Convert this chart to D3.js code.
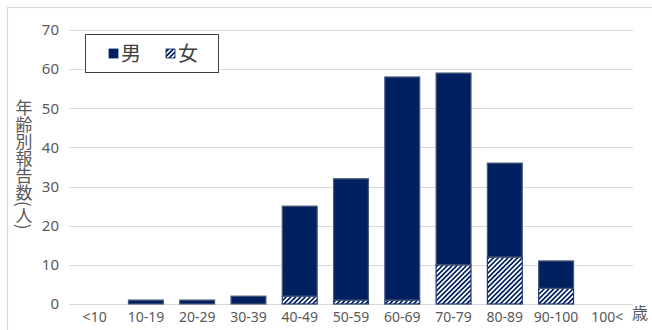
<!DOCTYPE html>
<html>
<head>
<meta charset="utf-8">
<script src="https://cdn.jsdelivr.net/npm/d3@7"></script>
<style>
  html, body { margin: 0; padding: 0; background: #fff; }
  svg { display: block; }
</style>
</head>
<body>
<svg id="chart" width="652" height="330"></svg>
<script>
// Age groups and reported counts by sex
const ageGroups = ["<10", "10-19", "20-29", "30-39", "40-49", "50-59", "60-69", "70-79", "80-89", "90-100", "100<"];
const female = [0, 0, 0, 0, 2, 1, 1, 10, 12, 4, 0];
const male   = [0, 1, 1, 2, 23, 31, 57, 49, 24, 7, 0];
const yTicks = [0, 10, 20, 30, 40, 50, 60, 70];
const seriesNames = ["男", "女"];

const navy = "#002060";
const textColor = "#595959";
const latin = "'Noto Sans', 'Noto Sans CJK JP', sans-serif";
const cjk = "'Noto Sans CJK JP', 'Noto Sans', sans-serif";

const svg = d3.select("#chart");

// chart frame
svg.append("rect")
  .attr("x", 7.5).attr("y", 7.5)
  .attr("width", 660).attr("height", 340)
  .attr("fill", "#fff").attr("stroke", "#d9d9d9").attr("stroke-width", 1.2);

// diagonal hatch for the female series
const defs = svg.append("defs");
const pat = defs.append("pattern")
  .attr("id", "hatch")
  .attr("patternUnits", "userSpaceOnUse")
  .attr("width", 3.4).attr("height", 3.4)
  .attr("patternTransform", "rotate(45)");
pat.append("rect").attr("width", 3.4).attr("height", 3.4).attr("fill", "#fff");
pat.append("rect").attr("width", 1.7).attr("height", 3.4).attr("fill", navy);

const plot = { left: 69, right: 633, top: 30, bottom: 304 };

const x = d3.scaleBand().domain(ageGroups).range([plot.left, plot.right]).paddingInner(0.3).paddingOuter(0.15);
const y = d3.scaleLinear().domain([0, 70]).range([plot.bottom, plot.top]);

// gridlines
svg.append("g")
  .selectAll("line")
  .data(yTicks)
  .join("line")
  .attr("x1", plot.left).attr("x2", plot.right)
  .attr("y1", d => Math.round(y(d)) + 0.5).attr("y2", d => Math.round(y(d)) + 0.5)
  .attr("stroke", "#d9d9d9").attr("stroke-width", 1);

// y axis labels
const yAxis = d3.axisLeft(y).tickValues(yTicks).tickSize(0).tickPadding(10);
const gy = svg.append("g").attr("transform", `translate(${plot.left},0)`).call(yAxis);
gy.select(".domain").remove();
gy.selectAll("text").attr("fill", textColor).attr("font-size", 15).attr("font-family", latin);

// x axis labels
const xAxis = d3.axisBottom(x).tickSize(0).tickPadding(8);
const gx = svg.append("g").attr("transform", `translate(0,${plot.bottom})`).call(xAxis);
gx.select(".domain").remove();
gx.selectAll("text").attr("fill", textColor).attr("font-size", 14).attr("font-family", latin);

// stacked bars: female at the bottom, male on top
const rows = ageGroups.map((g, i) => ({ group: g, 女: female[i], 男: male[i] }));
const stack = d3.stack().keys(["女", "男"]);
const layers = stack(rows);

const bw = x.bandwidth();
const bars = svg.append("g");
layers.forEach(layer => {
  const isFemale = layer.key === "女";
  bars.append("g")
    .selectAll("rect")
    .data(layer.filter(d => d[1] - d[0] > 0))
    .join("rect")
    .attr("x", d => x(d.data.group) + 0.5)
    .attr("width", bw - 1)
    .attr("y", d => y(d[1]))
    .attr("height", d => y(d[0]) - y(d[1]))
    .attr("fill", isFemale ? "url(#hatch)" : navy)
    .attr("stroke", isFemale ? "#1f3a75" : "#4a5a78")
    .attr("stroke-width", 1.2);
});

// y axis title (vertical)
svg.append("text")
  .attr("x", 24).attr("y", 99)
  .attr("writing-mode", "vertical-rl")
  .attr("font-family", cjk)
  .attr("font-size", 17)
  .attr("fill", textColor)
  .text("年齢別報告数(人)");

// unit label
svg.append("text")
  .attr("x", 632).attr("y", 319)
  .attr("font-family", cjk)
  .attr("font-size", 16)
  .attr("fill", textColor)
  .text("歳");

// legend
const lg = svg.append("g");
lg.append("rect")
  .attr("x", 85.5).attr("y", 34.5)
  .attr("width", 133).attr("height", 38)
  .attr("fill", "#fff").attr("stroke", "#404040").attr("stroke-width", 1);
const legendItems = [
  { name: seriesNames[0], fill: navy, sx: 109, tx: 121 },
  { name: seriesNames[1], fill: "url(#hatch)", sx: 166, tx: 178 }
];
legendItems.forEach(it => {
  lg.append("rect")
    .attr("x", it.sx).attr("y", 49)
    .attr("width", 9).attr("height", 9)
    .attr("fill", it.fill).attr("stroke", navy).attr("stroke-width", 0.8);
  lg.append("text")
    .attr("x", it.tx).attr("y", 61)
    .attr("font-family", cjk)
    .attr("font-size", 20)
    .attr("fill", "#404040")
    .text(it.name);
});
</script>
</body>
</html>
